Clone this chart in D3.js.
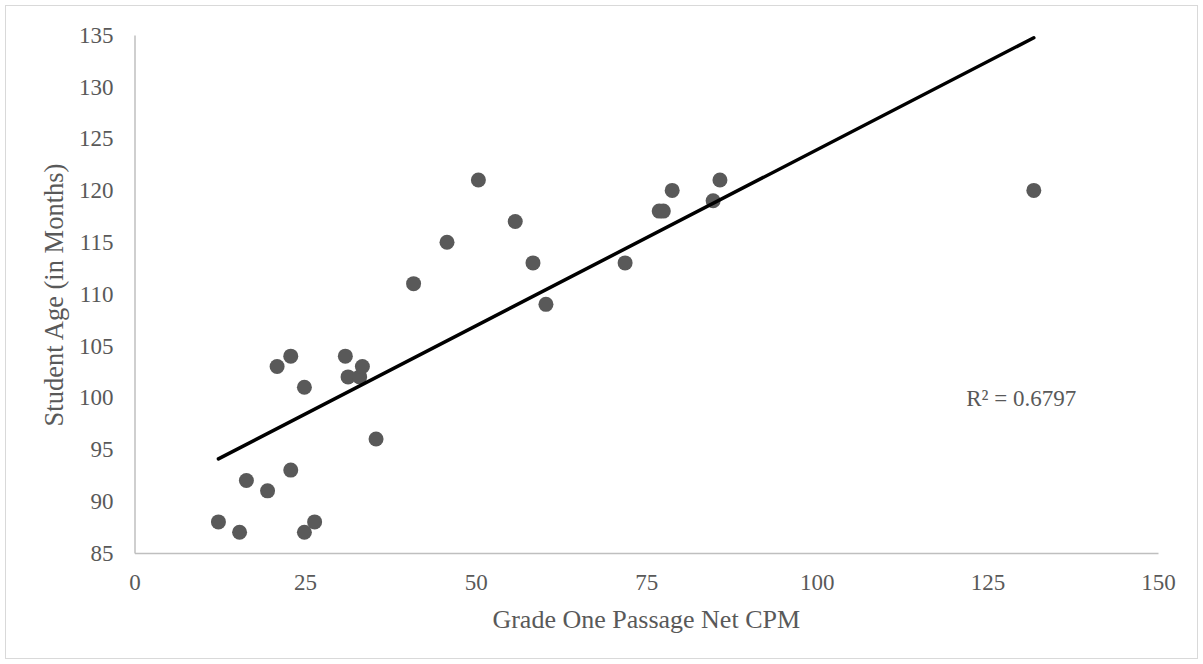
<!DOCTYPE html>
<html><head><meta charset="utf-8">
<script src="https://cdn.jsdelivr.net/npm/d3@7"></script>
<style>
html,body{margin:0;padding:0;background:#fff;}
svg{display:block;}
text{font-family:"Liberation Serif","Times New Roman",serif;fill:#595959;}
</style></head><body>
<svg id="chart" width="1203" height="664"></svg>
<script>
const cpm = [12.3, 15.4, 16.4, 19.5, 22.9, 24.9, 26.4, 20.9, 22.9, 24.9, 30.9, 31.3, 33.0, 33.4, 35.4, 40.9, 45.8, 50.4, 55.8, 58.4, 60.3, 71.9, 76.9, 77.5, 78.8, 84.8, 85.8, 131.8];
const age = [88, 87, 92, 91, 93, 87, 88, 103, 104, 101, 104, 102, 102, 103, 96, 111, 115, 121, 117, 113, 109, 113, 118, 118, 120, 119, 121, 120];
const xTicks = [0, 25, 50, 75, 100, 125, 150];
const yTicks = [85, 90, 95, 100, 105, 110, 115, 120, 125, 130, 135];
const xTitle = "Grade One Passage Net CPM";
const yTitle = "Student Age (in Months)";
const r2Label = "R² = 0.6797";

const svg = d3.select("#chart");
svg.append("rect").attr("x",5.5).attr("y",5.5).attr("width",1192).attr("height",653)
  .attr("fill","#fff").attr("stroke","#d9d9d9").attr("stroke-width",1);

const x = d3.scaleLinear().domain([0,150]).range([134.5,1158]);
const y = d3.scaleLinear().domain([85,135]).range([553,35]);

// axes
const xAxis = svg.append("g").attr("transform",`translate(0,${y(85)})`)
  .call(d3.axisBottom(x).tickValues(xTicks).tickSize(0).tickPadding(21));
xAxis.select(".domain").attr("stroke","#bfbfbf").attr("stroke-width",1.5);
xAxis.selectAll("text").attr("font-size","23px").attr("fill","#595959").attr("font-family","Liberation Serif");

const yAxis = svg.append("g").attr("transform",`translate(${x(0)},0)`)
  .call(d3.axisLeft(y).tickValues(yTicks).tickSize(0).tickPadding(21));
yAxis.select(".domain").attr("stroke","#bfbfbf").attr("stroke-width",1.5);
yAxis.selectAll("text").attr("font-size","23px").attr("fill","#595959").attr("font-family","Liberation Serif");

// points
svg.append("g").selectAll("circle").data(cpm.map((v,i)=>[v,age[i]])).join("circle")
  .attr("cx",d=>x(d[0])).attr("cy",d=>y(d[1])).attr("r",7.5).attr("fill","#595959");

// linear trendline (least squares)
const n = cpm.length;
const mx = d3.mean(cpm), my = d3.mean(age);
let sxy=0,sxx=0;
for(let i=0;i<n;i++){sxy+=(cpm[i]-mx)*(age[i]-my);sxx+=(cpm[i]-mx)**2;}
const slope = sxy/sxx, intercept = my - slope*mx;
const x0 = d3.min(cpm), x1 = d3.max(cpm);
svg.append("line").attr("x1",x(x0)).attr("y1",y(intercept+slope*x0))
  .attr("x2",x(x1)).attr("y2",y(intercept+slope*x1))
  .attr("stroke","#000").attr("stroke-width",3.5).attr("stroke-linecap","round");

svg.append("text").attr("x",x(121.9)).attr("y",y(100)+8).attr("font-size","23px").text(r2Label);

svg.append("text").attr("x",(x(0)+x(150))/2).attr("y",628).attr("text-anchor","middle")
  .attr("font-size","26px").text(xTitle);
svg.append("text").attr("transform",`translate(63,295) rotate(-90)`)
  .attr("text-anchor","middle").attr("font-size","26.5px").text(yTitle);
</script>
</body></html>
